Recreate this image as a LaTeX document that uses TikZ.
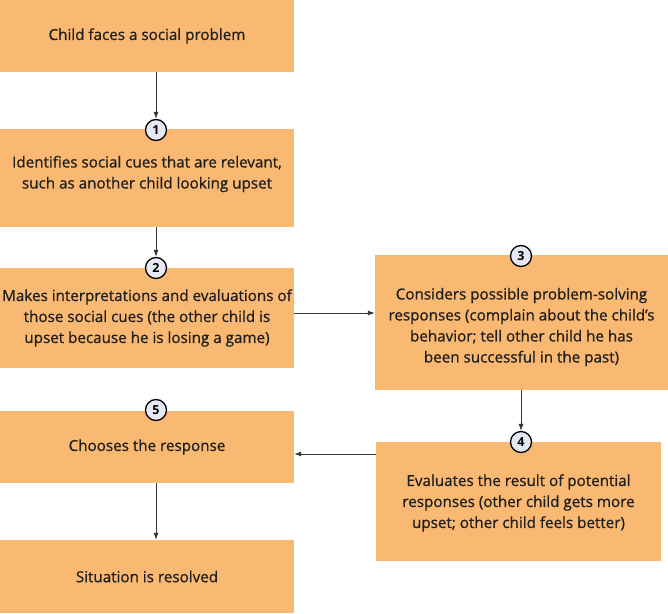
\documentclass[tikz,border=0pt]{standalone}
\usepackage{fontspec}
\setmainfont{Open Sans}
\newfontfamily\boxfont[FakeBold=0.8]{Open Sans}
\usetikzlibrary{arrows.meta,calc}
\definecolor{boxfill}{HTML}{F9B973}
\definecolor{circfill}{HTML}{E6E8F4}
\definecolor{arrcol}{HTML}{333333}
\tikzset{
  box/.style={fill=boxfill, draw=none, inner sep=0pt, align=center, font=\boxfont\fontsize{15.2}{21}\selectfont, text=black!88},
  num/.style={circle, draw=black, line width=1.3pt, fill=circfill, minimum size=21pt, inner sep=0pt, font=\fontsize{12.5}{12.5}\selectfont\bfseries},
  arr/.style={draw=arrcol, line width=0.9pt, -{Latex[length=7pt,width=5pt]}}
}
\begin{document}
\begin{tikzpicture}[x=1pt,y=-1pt]
\useasboundingbox (0,0) rectangle (668,613);
\node[box, minimum width=294pt, minimum height=72pt] (a) at (147,36) {Child faces a social problem};
\node[box, minimum width=294pt, minimum height=98pt] (b1) at (147,178) {};
\node[box] (t1) at (147,174) {Identifies social cues that are relevant,\\such as another child looking upset};
\node[box, minimum width=294pt, minimum height=100pt] (b2) at (147,318) {Makes interpretations and evaluations of\\those social cues (the other child is\\upset because he is losing a game)};
\node[box, minimum width=293pt, minimum height=135pt] (b3) at (521.5,322.5) {};
\node[box] (t3) at (521.5,327) {Considers possible problem-solving\\responses (complain about the child’s\\behavior; tell other child he has\\been successful in the past)};
\node[box, minimum width=285pt, minimum height=119pt] (b4) at (518.5,501.5) {};
\node[box] (t4) at (518.5,503) {Evaluates the result of potential\\responses (other child gets more\\upset; other child feels better)};
\node[box, minimum width=294pt, minimum height=72pt] (b5) at (147,447) {Chooses the response};
\node[box, minimum width=294pt, minimum height=73pt] (b6) at (147,576.5) {Situation is resolved};
\node[num] (c1) at (156,130) {1};
\node[num] (c2) at (156,268) {2};
\node[num] (c3) at (521,256) {3};
\node[num] (c4) at (521,442) {4};
\node[num] (c5) at (156,410) {5};
\draw[arr] (c1 |- a.south) -- (c1.north);
\draw[arr] (c2 |- b1.south) -- (c2.north);
\draw[arr] ([yshift=5pt]b2.east) -- ([yshift=5pt]b2.east -| b3.west);
\draw[arr] (c4 |- b3.south) -- (c4.north);
\draw[arr] ([yshift=47.5pt]b4.west) -- ([yshift=47.5pt]b4.west -| b5.east);
\draw[arr] (c5 |- b5.south) -- (c5 |- b6.north);
\end{tikzpicture}
\end{document}
